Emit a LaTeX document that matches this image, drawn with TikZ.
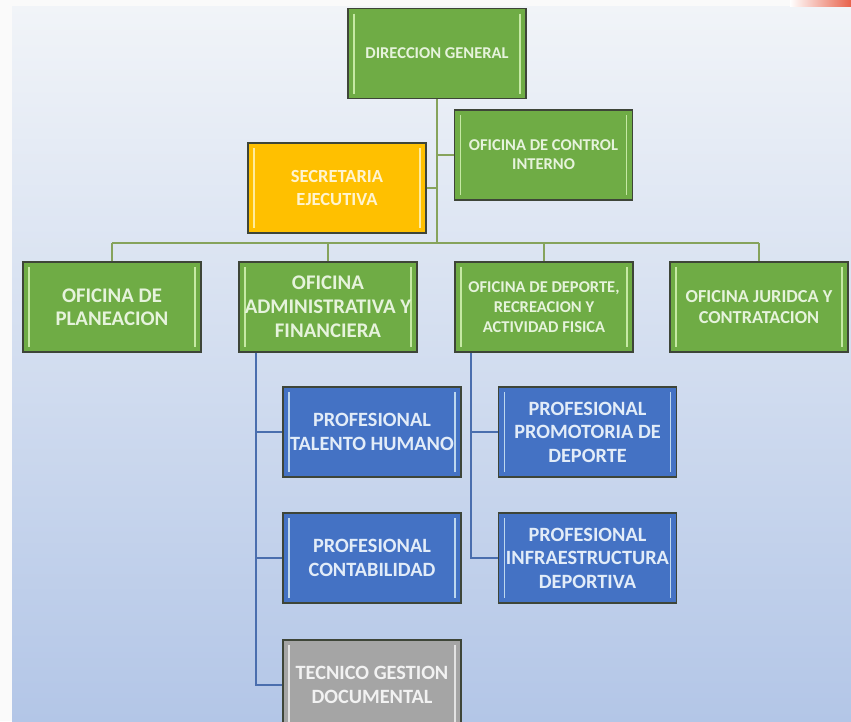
\documentclass[tikz,border=0pt]{standalone}
\usepackage{fontspec}
\setmainfont{Carlito}
\definecolor{gfill}{HTML}{6FAC45}
\definecolor{ginner}{HTML}{C6E9A4}
\definecolor{gtext}{HTML}{E6F3DC}
\definecolor{yfill}{HTML}{FFC000}
\definecolor{yinner}{HTML}{FFEB9C}
\definecolor{ytext}{HTML}{FFF4D0}
\definecolor{bfill}{HTML}{4472C4}
\definecolor{binner}{HTML}{BDD7EE}
\definecolor{btext}{HTML}{E2ECF8}
\definecolor{afill}{HTML}{A5A5A5}
\definecolor{ainner}{HTML}{E3E3E3}
\definecolor{atext}{HTML}{F2F2F2}
\definecolor{edge}{HTML}{3E4538}
\definecolor{gline}{HTML}{86A35C}
\definecolor{bline}{HTML}{4A6EAE}
\definecolor{bgtop}{HTML}{F1F4F8}
\definecolor{bgbot}{HTML}{B3C6E7}
\tikzset{
  unit/.style n args={3}{draw=edge, line width=1.6pt, fill=#1,
    minimum width=178pt, minimum height=90pt, inner sep=0pt,
    align=center, text=#3,
    path picture={
      \draw[#2, line width=1.8pt]
        ([shift={(6pt,-5pt)}]path picture bounding box.north west) --
        ([shift={(6pt,5pt)}]path picture bounding box.south west);
      \draw[#2, line width=1.8pt]
        ([shift={(-6pt,-5pt)}]path picture bounding box.north east) --
        ([shift={(-6pt,5pt)}]path picture bounding box.south east);
    }},
  gbox/.style={unit={gfill}{ginner}{gtext}},
  ybox/.style={unit={yfill}{yinner}{ytext}},
  bbox/.style={unit={bfill}{binner}{btext}, font=\bfseries\fontsize{20.3}{23.5}\selectfont},
  abox/.style={unit={afill}{ainner}{atext}, font=\bfseries\fontsize{20.3}{23.5}\selectfont},
  gcon/.style={draw=gline, line width=2pt},
  bcon/.style={draw=bline, line width=2pt},
}
\begin{document}
\begin{tikzpicture}[x=1pt, y=-1pt]
\useasboundingbox (0,0) rectangle (851,721);
\clip (0,0) rectangle (851,721);
% background
\fill[white!96!gray] (0,0) rectangle (851,721);
\shade[top color=bgtop, bottom color=bgbot] (12,6) rectangle (851,721);
\shade[left color=white, right color=red!55!brown!80] (790,0) rectangle (851,6);

% nodes
\node[gbox, font=\bfseries\fontsize{16.5}{20}\selectfont] (dg) at (437,53.5) {DIRECCION GENERAL};
\node[gbox, font=\bfseries\fontsize{16.5}{19}\selectfont] (ci) at (543.5,155) {OFICINA DE CONTROL\\INTERNO};
\node[ybox, font=\bfseries\fontsize{18.5}{23}\selectfont] (se) at (337,188) {SECRETARIA\\EJECUTIVA};

\node[gbox, font=\bfseries\fontsize{20.8}{22.5}\selectfont] (pl) at (112,307) {OFICINA DE\\PLANEACION};
\node[gbox, font=\bfseries\fontsize{20.8}{24}\selectfont] (ad) at (328,307) {OFICINA\\ADMINISTRATIVA Y\\FINANCIERA};
\node[gbox, font=\bfseries\fontsize{16.5}{20}\selectfont] (dp) at (544,307) {OFICINA DE DEPORTE,\\RECREACION Y\\ACTIVIDAD FISICA};
\node[gbox, font=\bfseries\fontsize{18.3}{21.5}\selectfont] (ju) at (759,307) {OFICINA JURIDCA Y\\CONTRATACION};

\node[bbox] (th) at (372,432) {PROFESIONAL\\TALENTO HUMANO};
\node[bbox] (co) at (372,558) {PROFESIONAL\\CONTABILIDAD};
\node[abox] (tg) at (372,685) {TECNICO GESTION\\DOCUMENTAL};
\node[bbox] (pd) at (587.5,432) {PROFESIONAL\\PROMOTORIA DE\\DEPORTE};
\node[bbox] (ie) at (587.5,558) {PROFESIONAL\\INFRAESTRUCTURA\\DEPORTIVA};

% connector coordinates
\coordinate (bus) at (437,243);
\coordinate (ax) at (256,0);
\coordinate (dx) at (471,0);

% top connectors
\draw[gcon] (dg.south) -- (bus);
\draw[gcon] (ci.west) -- (ci.west -| dg.south);
\draw[gcon] (se.east) -- (se.east -| dg.south);
\draw[gcon] (bus -| pl.north) -- (bus -| ju.north);
\draw[gcon] (bus -| pl.north) -- (pl.north);
\draw[gcon] (bus -| ad.north) -- (ad.north);
\draw[gcon] (bus -| dp.north) -- (dp.north);
\draw[gcon] (bus -| ju.north) -- (ju.north);
% lower connectors
\draw[bcon] (ax |- ad.south) -- (ax |- tg.west) -- (tg.west);
\draw[bcon] (th.west) -- (th.west -| ax);
\draw[bcon] (co.west) -- (co.west -| ax);
\draw[bcon] (dx |- dp.south) -- (dx |- ie.west) -- (ie.west);
\draw[bcon] (pd.west) -- (pd.west -| dx);
\end{tikzpicture}
\end{document}
